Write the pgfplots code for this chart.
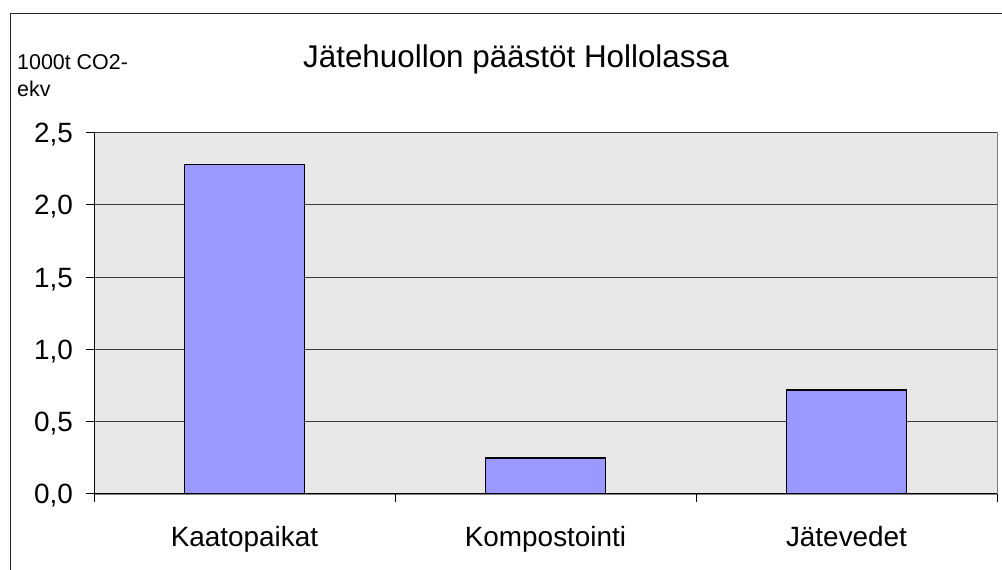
\documentclass[border=0pt]{standalone}
\usepackage{pgfplots}
\pgfplotsset{compat=1.18}
\usepackage{fontspec}
\setmainfont{Liberation Sans}
\definecolor{barc}{HTML}{9999FF}
\definecolor{plotbg}{HTML}{E8E8E8}
\definecolor{gridc}{HTML}{3A3A3A}
\begin{document}
\begin{tikzpicture}[x=1bp,y=1bp]
\clip (0,0) rectangle (1002,570);
\fill[white] (0,0) rectangle (1002,570);
\draw[line width=1bp, black!85] (10,-20) rectangle (1030,556);
\node[anchor=base, inner sep=0pt, font=\fontsize{31.5}{38}\selectfont] at (516,502) {Jätehuollon päästöt Hollolassa};
\node[anchor=base west, inner sep=0pt, font=\fontsize{21.5}{26}\selectfont] at (17,500) {1000t CO2-};
\node[anchor=base west, inner sep=0pt, font=\fontsize{21.5}{26}\selectfont] at (17,473.3) {ekv};
\begin{axis}[
  at={(94bp,76bp)}, anchor=south west,
  width=903bp, height=361.5bp, scale only axis,
  xmin=-0.5, xmax=2.5, ymin=0, ymax=2.5,
  axis background/.style={fill=plotbg, draw=gray},
  axis x line*=bottom, axis y line*=left,
  axis line style={line width=1bp, black},
  ybar, bar width=120bp,
  xtick={-0.5,0.5,1.5,2.5}, xticklabels={},
  extra x ticks={0,1,2},
  extra x tick labels={Kaatopaikat,Kompostointi,Jätevedet},
  extra x tick style={major tick length=0pt, grid=none},
  ytick={0,0.5,1,1.5,2,2.5},
  tick align=outside,
  major tick length=8bp,
  tick style={line width=1bp, black},
  ymajorgrids,
  major grid style={line width=1bp, gridc},
  /pgf/number format/assume math mode=true,
  yticklabel={\pgfmathprintnumber[fixed, fixed zerofill, precision=1, use comma]{\tick}},
  ticklabel style={font=\fontsize{28}{33}\selectfont},
  yticklabel style={anchor=base east, inner sep=0pt, xshift=-13bp, yshift=-10bp},
  xticklabel style={anchor=base, inner sep=0pt, yshift=-53bp},
]
\addplot[fill=barc, draw=black, line width=1.5bp] coordinates {(0,2.28) (1,0.25) (2,0.72)};
\end{axis}
\end{tikzpicture}
\end{document}
